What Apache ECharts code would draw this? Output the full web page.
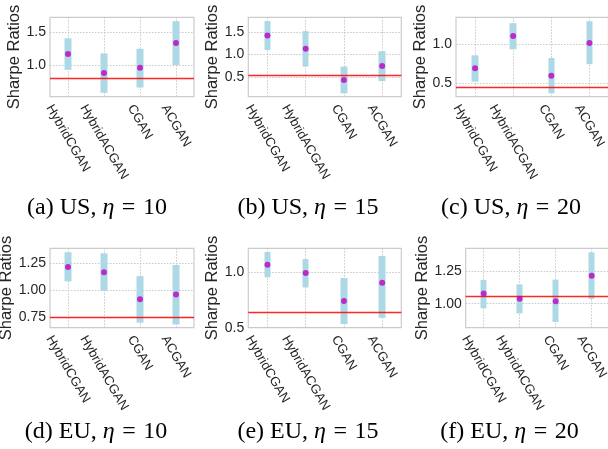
<!DOCTYPE html>
<html><head><meta charset="utf-8">
<script src="https://cdn.jsdelivr.net/npm/echarts@6/dist/echarts.min.js"></script>
<style>html,body{margin:0;padding:0;background:#fff}#c{width:608px;height:449px}</style>
</head><body><div id="c"></div>
<script>
// ---------- data ----------
const categories = ['HybridCGAN', 'HybridACGAN', 'CGAN', 'ACGAN'];

const us10Mean = [1.17, 0.88, 0.96, 1.34];
const us10Low  = [0.93, 0.58, 0.66, 1.00];
const us10High = [1.41, 1.18, 1.25, 1.67];
const us10Bench = 0.80;
const us10Ticks = [1.0, 1.5];

const us15Mean = [1.42, 1.125, 0.434, 0.743];
const us15Low  = [1.096, 0.73, 0.14, 0.41];
const us15High = [1.736, 1.515, 0.73, 1.07];
const us15Bench = 0.537;
const us15Ticks = [0.5, 1.0, 1.5];

const us20Mean = [0.692, 1.106, 0.598, 1.017];
const us20Low  = [0.52, 0.936, 0.372, 0.744];
const us20High = [0.859, 1.27, 0.824, 1.295];
const us20Bench = 0.449;
const us20Ticks = [0.5, 1.0];

const eu10Mean = [1.215, 1.166, 0.914, 0.96];
const eu10Low  = [1.082, 0.994, 0.697, 0.68];
const eu10High = [1.353, 1.343, 1.13, 1.234];
const eu10Bench = 0.747;
const eu10Ticks = [0.75, 1.00, 1.25];

const eu15Mean = [1.069, 0.994, 0.74, 0.906];
const eu15Low  = [0.955, 0.864, 0.533, 0.59];
const eu15High = [1.184, 1.12, 0.949, 1.148];
const eu15Bench = 0.639;
const eu15Ticks = [0.5, 1.0];

const eu20Mean = [1.077, 1.038, 1.018, 1.214];
const eu20Low  = [0.965, 0.926, 0.86, 1.036];
const eu20High = [1.181, 1.148, 1.184, 1.393];
const eu20Bench = 1.057;
const eu20Ticks = [1.00, 1.25];

const captions = ['(a) US, ', '(b) US, ', '(c) US, ', '(d) EU, ', '(e) EU, ', '(f) EU, '];
const etaValues = ['10', '15', '20', '10', '15', '20'];

// ---------- layout / styles ----------
const panels = [
  {mean: us10Mean, low: us10Low, high: us10High, bench: us10Bench, ticks: us10Ticks, min: 0.52, max: 1.73, dec: 1,
   box: {left: 50, top: 17.3, width: 144, height: 79.4}, nameGap: 26, cap: [97, 208]},
  {mean: us15Mean, low: us15Low, high: us15High, bench: us15Bench, ticks: us15Ticks, min: 0.065, max: 1.82, dec: 1,
   box: {left: 248.3, top: 17.3, width: 153, height: 79.4}, nameGap: 25, cap: [308, 208]},
  {mean: us20Mean, low: us20Low, high: us20High, bench: us20Bench, ticks: us20Ticks, min: 0.328, max: 1.346, dec: 1,
   box: {left: 456, top: 17.3, width: 152.5, height: 79.4}, nameGap: 25, cap: [511, 208]},
  {mean: eu10Mean, low: eu10Low, high: eu10High, bench: eu10Bench, ticks: eu10Ticks, min: 0.65, max: 1.39, dec: 2,
   box: {left: 50, top: 248.3, width: 144, height: 79.4}, nameGap: 32, cap: [96, 432]},
  {mean: eu15Mean, low: eu15Low, high: eu15High, bench: eu15Bench, ticks: eu15Ticks, min: 0.5, max: 1.217, dec: 1,
   box: {left: 248.3, top: 248.3, width: 153, height: 79.4}, nameGap: 25, cap: [308, 432]},
  {mean: eu20Mean, low: eu20Low, high: eu20High, bench: eu20Bench, ticks: eu20Ticks, min: 0.816, max: 1.424, dec: 2,
   box: {left: 465.7, top: 248.3, width: 144, height: 79.4}, nameGap: 33, cap: [509.5, 432]}
];

const SANS = '"Liberation Sans", Arial, sans-serif';
const SERIF = '"Liberation Serif", "Times New Roman", serif';
const TXT = '#262626';
const XFS = 13;

// rotated x labels centred like matplotlib (ha=center, rotation -60)
const mctx = document.createElement('canvas').getContext('2d');
mctx.font = XFS + 'px "Liberation Sans"';
const xRich = {};
categories.forEach((c, i) => {
  const L = mctx.measureText(c).width;
  xRich['c' + i] = {padding: [0.433 * L, 0, 0, 0.75 * L], fontSize: XFS, fontFamily: SANS, color: TXT};
});

const grids = [], xAxes = [], yAxes = [], series = [], graphics = [];
panels.forEach((p, k) => {
  grids.push(Object.assign({show: true, borderColor: '#cccccc', borderWidth: 1.2, backgroundColor: '#fff',
    containLabel: false, outerBoundsMode: 'none'}, p.box));
  xAxes.push({
    type: 'category', gridIndex: k, data: categories, boundaryGap: true,
    axisLine: {show: false}, axisTick: {show: false}, splitLine: {show: false},
    axisLabel: {interval: 0, rotate: -60, align: 'center', verticalAlign: 'middle', margin: 9,
      formatter: (v, i) => '{c' + i + '|' + v + '}', rich: xRich, fontSize: XFS, fontFamily: SANS, color: TXT}
  });
  yAxes.push({
    type: 'value', gridIndex: k, min: p.min, max: p.max,
    axisLine: {show: false},
    axisTick: {show: false, customValues: p.ticks},
    axisLabel: {customValues: p.ticks, formatter: v => Number(v).toFixed(p.dec), fontSize: 14, fontFamily: SANS, color: TXT, margin: 4},
    splitLine: {show: true, lineStyle: {color: '#c8c8c8', type: [1.5, 1.5], width: 1}},
    name: 'Sharpe Ratios', nameLocation: 'middle', nameGap: p.nameGap, nameRotate: 90,
    nameTextStyle: {fontSize: 16.5, fontFamily: SANS, color: TXT}
  });
  // vertical dotted grid lines at category centres
  series.push({
    type: 'line', xAxisIndex: k, yAxisIndex: k, data: [], silent: true, z: 1,
    markLine: {z: 1, silent: true, symbol: 'none', label: {show: false}, animation: false,
      lineStyle: {color: '#c8c8c8', type: [1.5, 1.5], width: 1},
      data: categories.map(c => ({xAxis: c}))}
  });
  // light-blue range bars (low..high)
  series.push({
    type: 'candlestick', xAxisIndex: k, yAxisIndex: k, z: 2, barWidth: 7, silent: true,
    itemStyle: {color: '#add8e6', color0: '#add8e6', borderColor: '#add8e6', borderColor0: '#add8e6', borderWidth: 0},
    data: categories.map((c, i) => [p.low[i], p.high[i], p.low[i], p.high[i]])
  });
  // mean points + benchmark line
  series.push({
    type: 'scatter', xAxisIndex: k, yAxisIndex: k, z: 4, symbolSize: 6, silent: true,
    itemStyle: {color: '#bf00bf'},
    data: p.mean,
    markLine: {z: 3, silent: true, symbol: 'none', label: {show: false}, animation: false,
      lineStyle: {color: 'rgba(255,0,0,0.85)', width: 1.3, type: 'solid'},
      data: [{yAxis: p.bench}]}
  });
  graphics.push({
    type: 'text', x: p.cap[0], y: p.cap[1],
    style: {text: captions[k] + '{i|η}{s| }={s| }' + etaValues[k], textAlign: 'center', textVerticalAlign: 'middle',
      fontFamily: SERIF, fontSize: 24, fill: '#000',
      rich: {
        i: {fontStyle: 'italic', fontFamily: SERIF, fontSize: 24, fill: '#000'},
        s: {fontFamily: SERIF, fontSize: 30, lineHeight: 24, fill: '#000'}
      }}
  });
});

const chart = echarts.init(document.getElementById('c'), null, {renderer: 'canvas'});
chart.setOption({
  animation: false,
  backgroundColor: '#fff',
  grid: grids, xAxis: xAxes, yAxis: yAxes, series: series, graphic: graphics
});
</script></body></html>
